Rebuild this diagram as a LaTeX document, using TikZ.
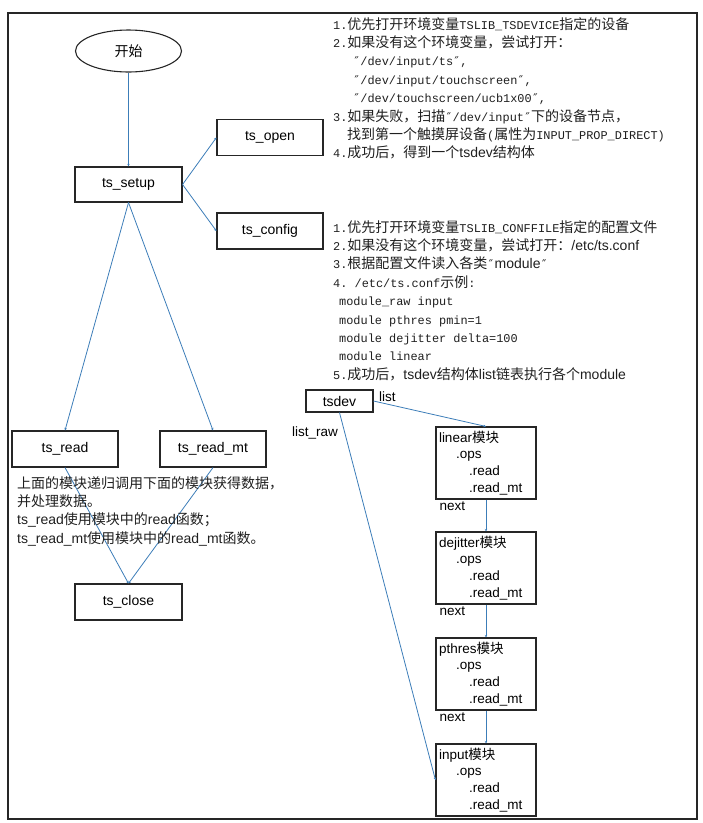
\documentclass[tikz,border=0pt]{standalone}
\usepackage{fontspec}
\setmainfont{Noto Sans CJK SC}
\newfontfamily\cjk{Noto Sans CJK SC}
\newfontfamily\mono[Scale=0.85]{Liberation Mono}
\newfontfamily\arial{Liberation Sans}
\newfontfamily\dqfont[Scale=0.85]{DejaVu Sans Mono}
\usetikzlibrary{arrows.meta,shapes.geometric}
\definecolor{linkblue}{HTML}{3C7DB8}
\newcommand{\dq}{{\dqfont ″}}
\begin{document}
\begin{tikzpicture}[x=1pt,y=-1pt,
    box/.style={draw=black!85,line width=1.1pt,minimum width=106pt,minimum height=36pt,inner sep=0pt,font=\arial\fontsize{14}{16}\selectfont},
    modbox/.style={draw=black!85,line width=1.1pt,minimum width=100pt,minimum height=72pt,text width=94pt,align=left,inner sep=3pt,font=\arial\fontsize{13.5}{16.7}\selectfont},
    link/.style={draw=linkblue,line width=0.8pt,-{Stealth[length=2.5pt,width=2.5pt]}},
    note/.style={anchor=north west,align=left,inner sep=0pt,text=black!88,font=\fontsize{14}{18.4}\selectfont},
    tag/.style={inner sep=0pt,font=\arial\fontsize{13.5}{16}\selectfont}]

    \useasboundingbox (0,0) rectangle (703,823);
    \draw[line width=1.3pt,black!85] (8,13) rectangle (697,819);

    % left column
    \node[draw=black!85,line width=1.1pt,ellipse,minimum width=106pt,minimum height=42pt,font=\fontsize{14}{16}\selectfont] (start) at (128.5,51) {开始};
    \node[box,minimum width=107pt,minimum height=35pt] (setup) at (128.5,184.5) {ts\_setup};
    \node[box] (open) at (270,137.5) {ts\_open};
    \node[box] (config) at (270,231) {ts\_config};
    \node[box] (read) at (65,449) {ts\_read};
    \node[box] (readmt) at (213,449) {ts\_read\_mt};
    \node[box,minimum width=107pt] (close) at (128.5,602) {ts\_close};

    \draw[link] (start) -- (setup);
    \draw[link] (setup.east) -- (open.west);
    \draw[link] (setup.east) -- (config.west);
    \draw[link] (setup.south) -- (read.north);
    \draw[link] (setup.south) -- (readmt.north);
    \draw[link] (read.south) -- (close.north);
    \draw[link] (readmt.south) -- (close.north);

    % notes
    \node[note] (opennote) at (333,17) {%
      {\mono 1.}优先打开环境变量{\mono TSLIB\_TSDEVICE}指定的设备\\
      {\mono 2.}如果没有这个环境变量，尝试打开：\\
      \hspace*{20pt}{\mono\dq/dev/input/ts\dq,}\\
      \hspace*{20pt}{\mono\dq/dev/input/touchscreen\dq,}\\
      \hspace*{20pt}{\mono\dq/dev/touchscreen/ucb1x00\dq,}\\
      {\mono 3.}如果失败，扫描{\mono\dq/dev/input\dq}下的设备节点，\\
      \hspace*{14pt}找到第一个触摸屏设备{\mono(}属性为{\mono INPUT\_PROP\_DIRECT)}\\
      {\mono 4.}成功后，得到一个{\arial tsdev}结构体};
    \node[note] (confignote) at (333,220) {%
      {\mono 1.}优先打开环境变量{\mono TSLIB\_CONFFILE}指定的配置文件\\
      {\mono 2.}如果没有这个环境变量，尝试打开：{\arial /etc/ts.conf}\\
      {\mono 3.}根据配置文件读入各类{\mono\dq}{\arial module}{\mono\dq}\\
      {\mono 4.\ /etc/ts.conf}示例{\mono :}\\
      \hspace*{6pt}{\mono module\_raw input}\\
      \hspace*{6pt}{\mono module pthres pmin=1}\\
      \hspace*{6pt}{\mono module dejitter delta=100}\\
      \hspace*{6pt}{\mono module linear}\\
      {\mono 5.}成功后，{\arial tsdev}结构体{\arial list}链表执行各个{\arial module}};
    \node[note] (readnote) at (17,476) {%
      上面的模块递归调用下面的模块获得数据，\\
      并处理数据。\\
      {\arial ts\_read}使用模块中的{\arial read}函数；\\
      {\arial ts\_read\_mt}使用模块中的{\arial read\_mt}函数。};

    % module list
    \node[box,minimum width=67pt,minimum height=22pt] (tsdev) at (339.5,401) {tsdev};
    \node[modbox] (linear) at (486,463) {linear{\cjk 模块}\\\hspace*{17pt}.ops\\\hspace*{30pt}.read\\\hspace*{30pt}.read\_mt};
    \node[modbox] (dejitter) at (486,568) {dejitter{\cjk 模块}\\\hspace*{17pt}.ops\\\hspace*{30pt}.read\\\hspace*{30pt}.read\_mt};
    \node[modbox] (pthres) at (486,674) {pthres{\cjk 模块}\\\hspace*{17pt}.ops\\\hspace*{30pt}.read\\\hspace*{30pt}.read\_mt};
    \node[modbox] (input) at (486,780) {input{\cjk 模块}\\\hspace*{17pt}.ops\\\hspace*{30pt}.read\\\hspace*{30pt}.read\_mt};

    \node[tag,anchor=west] (list) at (379,397) {list};
    \node[tag,anchor=west] (listraw) at (292,433) {list\_raw};
    \node[tag,anchor=north west] (next1) at ([xshift=4pt,yshift=-2pt]linear.south west) {next};
    \node[tag,anchor=north west] (next2) at ([xshift=4pt,yshift=-2pt]dejitter.south west) {next};
    \node[tag,anchor=north west] (next3) at ([xshift=4pt,yshift=-2pt]pthres.south west) {next};

    \draw[link] (tsdev.east) -- (linear.north);
    \draw[link] (tsdev.south) -- (input.west);
    \draw[link] (linear) -- (dejitter);
    \draw[link] (dejitter) -- (pthres);
    \draw[link] (pthres) -- (input);
\end{tikzpicture}
\end{document}
